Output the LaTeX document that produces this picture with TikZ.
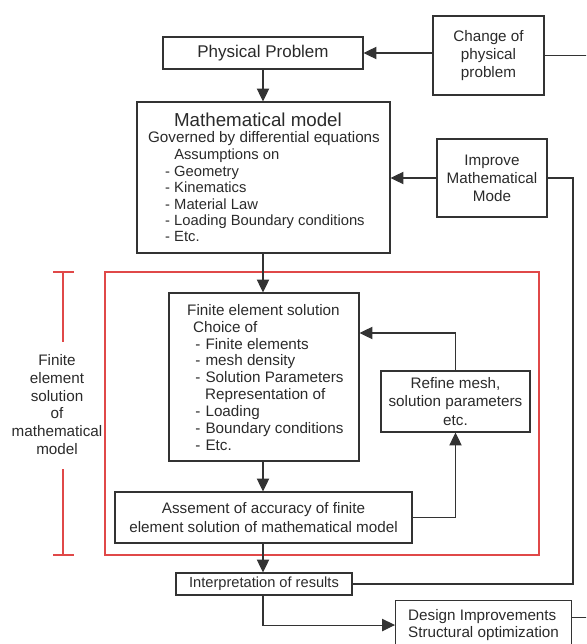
\documentclass[tikz,border=0pt]{standalone}
\usepackage{fontspec}
\setmainfont{Liberation Sans}
\usetikzlibrary{arrows.meta}
\definecolor{linegray}{HTML}{333333}
\definecolor{textgray}{HTML}{2A2A2A}
\definecolor{framered}{HTML}{E04848}

\begin{document}
\begin{tikzpicture}[x=0.03cm, y=-0.03cm,
    box/.style={draw=linegray, line width=0.9pt, text=textgray, inner sep=0pt, align=center, font=\fontsize{13}{15.2}\selectfont},
    txt/.style={text=textgray, inner sep=0pt, align=left, font=\fontsize{13}{15.2}\selectfont},
    flow/.style={draw=linegray, line width=0.9pt, -{Triangle[length=11pt,width=10.5pt]}},
    link/.style={draw=linegray, line width=0.9pt},
    redline/.style={draw=framered, line width=0.9pt}]
  \useasboundingbox (0,0) rectangle (586,644);
  \clip (0,0) rectangle (586,644);

  % top row
  \node[box, minimum width=6cm, minimum height=0.96cm, font=\fontsize{14.5}{16}\selectfont] (phys) at (263,53) {Physical Problem};
  \node[box, minimum width=3.33cm, minimum height=2.37cm, font=\fontsize{13}{15}\selectfont] (change) at (488.5,55.5) {Change of\\physical\\problem};

  % mathematical model
  \node[box, minimum width=7.59cm, minimum height=4.53cm] (math) at (263.5,177.5) {};
  \node[txt, font=\fontsize{16}{18}\selectfont] (mathtitle) at (258,120) {Mathematical model};
  \node[txt] (mathgov) at (264,139) {Governed by differential equations};
  \node[txt, anchor=north west, font=\fontsize{12.6}{14}\selectfont] (mathlist) at (165,149)
    {\hphantom{- }Assumptions on\\- Geometry\\- Kinematics\\- Material Law\\- Loading Boundary conditions\\- Etc.};
  \node[box, minimum width=3.3cm, minimum height=2.34cm, font=\fontsize{13}{15.4}\selectfont] (improve) at (492,178) {Improve\\Mathematical\\Mode};

  % finite element solution (red frame)
  \draw[redline] (105,272) rectangle (539,555);
  \draw[redline] (53,272) -- (74,272) (63,272) -- (63,342) (63,469) -- (63,555) (53,555) -- (74,555);
  \node[txt, align=center] (felabel) at (57,404.5) {Finite\\element\\solution\\of\\mathematical\\model};

  \node[box, minimum width=5.7cm, minimum height=5.04cm] (fe) at (264,377) {};
  \node[txt, anchor=north west, font=\fontsize{13}{14.4}\selectfont] (felist) at (187,304)
    {Finite element solution\\\hspace{5pt}Choice of\\\hspace{7pt}-\hspace{4.3pt}Finite elements\\\hspace{7pt}-\hspace{4.3pt}mesh density\\\hspace{7pt}-\hspace{4.3pt}Solution Parameters\\\hspace{15.3pt}Representation of\\\hspace{7pt}-\hspace{4.3pt}Loading\\\hspace{7pt}-\hspace{4.3pt}Boundary conditions\\\hspace{7pt}-\hspace{4.3pt}Etc.};
  \node[box, minimum width=4.47cm, minimum height=1.83cm, font=\fontsize{13}{15.6}\selectfont] (refine) at (455.5,401.5) {Refine mesh,\\solution parameters\\etc.};
  \node[box, minimum width=8.91cm, minimum height=1.53cm, font=\fontsize{13}{16}\selectfont] (assess) at (263.5,517.5) {Assement of accuracy of finite\\element solution of mathematical model};

  % results
  \node[box, minimum width=5.28cm, minimum height=0.66cm, font=\fontsize{12.5}{15}\selectfont] (interp) at (264,584) {Interpretation of results};
  \node[box, anchor=north west, minimum width=5.28cm, minimum height=1.47cm, align=left, font=\fontsize{13}{14.5}\selectfont] (design) at (395,600) {Design Improvements\\Structural optimization};

  % connectors
  \coordinate (mrail) at (573,0);
  \draw[flow] (phys.south) -- (phys.south |- math.north);
  \draw[flow] (change.west |- phys.east) -- (phys.east);
  \draw[flow] (improve.west) -- (math.east |- improve.west);
  \draw[flow] (math.south -| phys.south) -- (phys.south |- fe.north);
  \draw[flow] (fe.south -| phys.south) -- (phys.south |- assess.north);
  \draw[flow] (assess.south -| phys.south) -- (phys.south |- interp.north);
  \draw[flow] (interp.south -| phys.south) |- (design.west);
  \draw[flow] (assess.east) -| (refine.south);
  \draw[flow] (refine.north) |- ([yshift=1.32cm]fe.east);
  \draw[link] (interp.east) -| (mrail |- improve.east) -- (improve.east);
  \draw[link] ([yshift=0.225cm]design.east) -- ++(25,0) |- (change.east);
\end{tikzpicture}
\end{document}
